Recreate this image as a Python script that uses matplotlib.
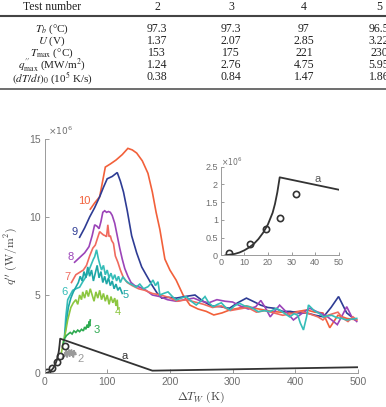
import matplotlib
matplotlib.use('Agg')
import matplotlib.pyplot as plt
from matplotlib.lines import Line2D

# ---------------- data ----------------
test_numbers = ["2", "3", "4", "5"]
row_labels = [r"$T_b$ (°C)", r"$U$ (V)", r"$T_{\rm max}$ (°C)",
              r"$q^{\prime\prime}_{\rm max}$ (MW/m$^2$)", r"$(dT/dt)_0$ (10$^5$ K/s)"]
Tb = ["97.3", "97.3", "97", "96.5"]
U = ["1.37", "2.07", "2.85", "3.22"]
Tmax = ["153", "175", "221", "230"]
qmax = ["1.24", "2.76", "4.75", "5.95"]
dTdt = ["0.38", "0.84", "1.47", "1.86"]

# curves (x in K, y in 1e6 W/m2)
x10 = [73, 80, 88, 97, 105, 114, 124, 133, 140, 147, 156, 165, 172, 178, 184, 192, 200, 210, 221, 232,
       245, 258, 270, 283, 296, 309, 322, 335, 349, 362, 376, 391, 405, 418, 431, 444, 455, 468, 482, 498]
y10 = [10.5, 10.9, 11.3, 13.2, 13.4, 13.65, 14.0, 14.4, 14.3, 14.1, 13.6, 12.8, 11.6, 10.3, 9.2, 7.3, 6.6, 5.95, 5.0, 4.35,
       4.1, 3.95, 3.72, 3.85, 4.05, 4.15, 4.3, 4.15, 4.05, 3.95, 3.9, 3.87, 3.95, 4.04, 3.9, 3.85, 2.9, 3.7, 3.5, 3.4]

x9 = [56, 64, 72, 80, 88, 94, 100, 108, 116, 121, 126, 132, 139, 147, 155, 162, 172, 180, 187, 198, 210, 224,
      240, 253, 266, 281, 295, 308, 322, 335, 345, 356, 367, 380, 392, 405, 418, 432, 445, 457, 469, 482, 496]
y9 = [8.7, 9.3, 10.0, 10.6, 11.3, 11.9, 12.45, 12.6, 12.85, 12.3, 11.6, 10.4, 8.8, 7.7, 6.8, 6.3, 5.6, 5.1, 4.8, 4.85, 4.8, 4.9,
      5.0, 4.6, 4.3, 4.25, 4.15, 4.5, 4.8, 4.55, 4.35, 4.2, 4.15, 3.95, 3.95, 3.85, 3.85, 3.7, 3.6, 4.2, 4.9, 3.85, 3.4]

x8 = [48, 56, 64, 71, 76, 80, 84, 87, 90, 93, 96, 99, 102, 105, 108, 112, 116, 120, 124, 128, 133, 138, 144, 152, 162, 172, 184, 196,
      210, 224, 238, 250, 262, 275, 288, 300, 312, 325, 337, 345, 352, 360, 368, 375, 386, 397, 410, 423, 436, 448, 458, 467, 475, 482, 490, 498]
y8 = [7.1, 7.4, 7.7, 8.1, 8.8, 9.5, 9.4, 9.25, 9.7, 10.3, 10.4, 10.3, 10.35, 10.3, 10.1, 9.6, 8.8, 8.0, 7.3, 6.7, 6.2, 5.8, 5.6, 5.5, 5.3, 5.0, 4.9, 4.7,
      4.6, 4.7, 4.8, 4.6, 4.5, 4.7, 4.6, 4.55, 4.3, 4.1, 4.25, 4.65, 4.2, 3.6, 4.0, 4.35, 3.9, 3.4, 3.8, 4.15, 3.9, 3.7, 3.4, 3.1, 3.7, 4.25, 3.6, 3.3]

x7 = [43, 50, 56, 62, 67, 72, 77, 81, 85, 88, 91, 94, 97, 99, 101, 103, 105, 107, 110, 113, 117, 121, 126, 132, 140, 150, 160, 172,
      185, 198, 212, 226, 240, 254, 268, 282, 296, 310, 324, 338, 352, 366, 380, 394, 408, 422, 436, 444, 452, 460, 468, 476, 484, 492, 498]
y7 = [5.8, 6.3, 6.45, 6.6, 6.9, 7.5, 8.0, 8.2, 8.7, 9.06, 8.95, 8.85, 8.8, 8.74, 9.5, 8.74, 8.8, 8.5, 8.3, 7.5, 7.1, 6.6, 6.1, 5.8, 5.6, 5.4, 5.3, 5.1,
      5.0, 4.85, 4.6, 4.7, 4.55, 4.4, 4.2, 4.3, 4.0, 4.1, 4.2, 3.9, 4.0, 3.85, 3.7, 3.8, 3.95, 3.8, 3.6, 3.4, 3.7, 3.8, 3.9, 3.5, 3.3, 3.6, 3.4]

x6 = [32, 34, 37, 41, 45, 50, 56, 61, 65, 69, 72, 75, 78, 80, 83, 86, 88, 91, 94, 97, 100, 103, 106, 109, 112, 115, 118, 121, 125,
      130, 135, 141, 146, 152, 158, 165, 169, 173, 177, 181, 184, 190, 197, 204, 210, 218, 226, 234, 242, 249, 256, 262, 269, 276,
      282, 289, 296, 303, 311, 319, 327, 334, 341, 350, 359, 365, 370, 380, 391, 398, 404, 408, 413, 418, 421, 430, 439, 445, 450,
      458, 466, 474, 482, 490, 498]
y6 = [2.4, 3.6, 4.7, 5.0, 5.3, 5.4, 5.5, 5.85, 6.1, 6.4, 6.7, 7.0, 7.3, 7.45, 7.9, 7.3, 7.0, 6.6, 6.9, 6.3, 6.6, 6.1, 6.4, 6.0, 6.3, 5.9, 6.2, 5.8, 6.17,
      5.9, 5.75, 5.64, 5.5, 5.7, 5.4, 5.53, 5.7, 5.96, 5.6, 5.85, 5.0, 5.1, 5.2, 4.9, 4.68, 4.8, 4.9, 4.6, 4.36, 4.6, 4.9, 4.5, 4.25, 4.4,
      4.5, 4.2, 4.04, 4.3, 4.47, 4.3, 4.25, 4.1, 3.93, 4.0, 3.93, 4.05, 4.15, 3.9, 3.6, 3.8, 3.7, 3.2, 2.76, 3.6, 4.36, 4.0, 3.8, 3.6, 3.65,
      3.7, 3.55, 3.5, 3.4, 3.45, 3.5]

x5 = [32, 35, 38, 42, 46, 50, 54, 57, 60, 63, 66, 69, 72, 75, 78, 81, 84, 87, 90, 93, 96, 99, 102, 105, 108, 111, 114, 117, 120, 124]
y5 = [2.3, 3.3, 4.2, 4.8, 5.2, 5.5, 5.8, 6.2, 5.9, 6.5, 6.1, 6.8, 6.2, 6.6, 5.9, 6.4, 6.9, 6.1, 6.5, 5.8, 6.2, 5.7, 6.1, 5.6, 5.9, 5.4, 5.7, 5.3, 5.5, 5.1]

x4 = [27, 30, 33, 37, 42, 46, 50, 53, 56, 59, 61, 64, 67, 70, 73, 76, 79, 82, 85, 88, 91, 94, 97, 100, 103, 106, 109, 112, 114, 116, 117]
y4 = [1.3, 2.0, 2.5, 3.4, 4.2, 4.5, 4.7, 4.4, 5.0, 4.7, 5.2, 4.8, 5.3, 4.9, 5.4, 5.0, 4.6, 5.2, 4.8, 5.3, 4.7, 5.1, 4.6, 5.0, 4.4, 4.9, 4.5, 4.8, 4.3, 4.7, 4.1]

x3 = [30, 32, 35, 38, 41, 44, 47, 50, 53, 56, 59, 62, 64, 66, 68, 70, 71, 72, 73]
y3 = [1.9, 2.2, 2.4, 2.5, 2.6, 2.5, 2.7, 2.6, 2.75, 2.65, 2.8, 2.7, 2.95, 2.8, 3.1, 2.9, 3.3, 3.0, 3.4]

x2 = [29, 31, 32, 33, 34, 35, 36, 37, 38, 39, 40, 41, 42, 43, 44, 45, 46, 47, 48, 49, 50]
y2 = [1.0, 1.2, 1.05, 1.35, 1.1, 1.45, 1.0, 1.4, 1.15, 1.5, 1.05, 1.45, 1.2, 1.5, 1.1, 1.4, 1.0, 1.45, 1.15, 1.35, 1.2]

xa = [2, 4, 6, 8, 10, 12, 14, 16, 18, 20, 22, 23, 24, 25, 172, 500]
ya = [0.0, 0.02, 0.04, 0.08, 0.14, 0.22, 0.32, 0.46, 0.64, 0.87, 1.2, 1.45, 1.78, 2.2, 0.15, 0.37]

x_exp = [3.6, 12.4, 19.2, 25.1, 31.9]
y_exp = [0.07, 0.33, 0.73, 1.06, 1.72]

curve_labels = ["10", "9", "8", "7", "6", "5", "4", "3", "2"]
label_x = [64, 48, 42, 37, 32, 130, 117, 83, 57]
label_y = [11.0, 9.06, 7.45, 6.17, 5.17, 5.0, 3.9, 2.76, 0.9]

# ---------------- style ----------------
colors = {"10": "#F2603A", "9": "#2E3C94", "8": "#9B44B8", "7": "#F06A5E",
          "6": "#35BDB8", "5": "#1EA6A6", "4": "#8CC63F", "3": "#2DAA50", "2": "#9A9A9A"}
dark = "#333333"
tickc = "#6E6E6E"
spinec = "#9A9A9A"

W, H = 386, 407
fig = plt.figure(figsize=(W / 100, H / 100), dpi=100)

def fx(px):
    return px / W

def fy(py):
    return 1 - py / H

# ---------------- table ----------------
lfont = dict(family="Liberation Serif", fontsize=8, color="#222222", math_fontfamily="stix")
vfont = dict(family="Liberation Serif", fontsize=8.5, color="#222222")
col_x = [157, 231, 304, 379]
row_y = [27, 39, 51, 63, 76]
fig.text(fx(52), fy(7), "Test number", ha="center", va="center", **vfont)
for cx, t in zip(col_x, test_numbers):
    fig.text(fx(cx), fy(7), t, ha="center", va="center", **vfont)
fig.add_artist(Line2D([0, 1], [fy(15.5), fy(15.5)], transform=fig.transFigure, color="#444444", lw=1.5))
fig.add_artist(Line2D([0, 1], [fy(89), fy(89)], transform=fig.transFigure, color="#555555", lw=1.2))
rows = [Tb, U, Tmax, qmax, dTdt]
for ry, lab, vals in zip(row_y, row_labels, rows):
    fig.text(fx(52), fy(ry), lab, ha="center", va="center_baseline", **lfont)
    for cx, v in zip(col_x, vals):
        fig.text(fx(cx), fy(ry), v, ha="center", va="center_baseline", **vfont)

# ---------------- main axes ----------------
ax = fig.add_axes([fx(44.5), fy(373), fx(358) - fx(44.5), fy(139) - fy(373)])
series = [("10", x10, y10), ("9", x9, y9), ("8", x8, y8), ("7", x7, y7), ("6", x6, y6),
          ("5", x5, y5), ("4", x4, y4), ("3", x3, y3), ("2", x2, y2)]
for name, xs, ys in series:
    ax.plot(xs, ys, color=colors[name], lw=1.2, solid_joinstyle="miter")
ax.plot(xa, ya, color=dark, lw=1.3)
ax.plot(x_exp, y_exp, 'o', mfc="none", mec=dark, mew=1.2, ms=4.5)
for t, lx, ly in zip(curve_labels, label_x, label_y):
    ax.text(lx, ly, t, color=colors[t], fontsize=8, family="Liberation Sans", ha="center", va="center")
ax.text(128, 1.09, "a", color=dark, fontsize=8, family="Liberation Sans", ha="center", va="center")

ax.set_xlim(0, 500)
ax.set_ylim(0, 15)
ax.set_xticks([0, 100, 200, 300, 400, 500])
ax.set_yticks([0, 5, 10, 15])
for s in ["top", "right"]:
    ax.spines[s].set_visible(False)
for s in ["left", "bottom"]:
    ax.spines[s].set_color(spinec)
    ax.spines[s].set_linewidth(0.7)
ax.tick_params(direction="in", length=3, width=0.7, colors=spinec, labelcolor=tickc, labelsize=7.5, pad=3)
for lbl in ax.get_xticklabels() + ax.get_yticklabels():
    lbl.set_family("Liberation Sans")
ax.text(0.01, 1.035, r"$\times10^6$", transform=ax.transAxes, color=tickc, fontsize=6.5,
        family="Liberation Sans", ha="left", va="center")
ax.set_xlabel(r"$\Delta T_W\ (\mathrm{K})$", fontsize=8.5, color="#444444", math_fontfamily="cm", labelpad=2)
ax.set_ylabel(r"$q''\ (\mathrm{W/m^2})$", fontsize=8.5, color="#444444", math_fontfamily="cm", labelpad=6)

# ---------------- inset ----------------
ax2 = fig.add_axes([fx(220.7), fy(255.3), fx(338.7) - fx(220.7), fy(166.7) - fy(255.3)])
ax2.plot(xa, ya, color=dark, lw=1.3)
ax2.plot(x_exp, y_exp, 'o', mfc="none", mec=dark, mew=1.2, ms=4.5)
ax2.text(40.9, 2.15, "a", color="#555555", fontsize=8, family="Liberation Sans", ha="center", va="center")
ax2.set_xlim(0, 50)
ax2.set_ylim(0, 2.5)
ax2.set_xticks([0, 10, 20, 30, 40, 50])
ax2.set_yticks([0, 0.5, 1, 1.5, 2, 2.5])
ax2.set_yticklabels(["0", "0.5", "1", "1.5", "2", "2.5"])
for s in ["top", "right"]:
    ax2.spines[s].set_visible(False)
for s in ["left", "bottom"]:
    ax2.spines[s].set_color(spinec)
    ax2.spines[s].set_linewidth(0.7)
ax2.tick_params(direction="in", length=2.5, width=0.7, colors=spinec, labelcolor=tickc, labelsize=6.5, pad=2)
for lbl in ax2.get_xticklabels() + ax2.get_yticklabels():
    lbl.set_family("Liberation Sans")
ax2.text(0.0, 1.06, r"$\times10^6$", transform=ax2.transAxes, color=tickc, fontsize=5.5,
         family="Liberation Sans", ha="left", va="center")

fig.savefig("out.png", dpi=100)
